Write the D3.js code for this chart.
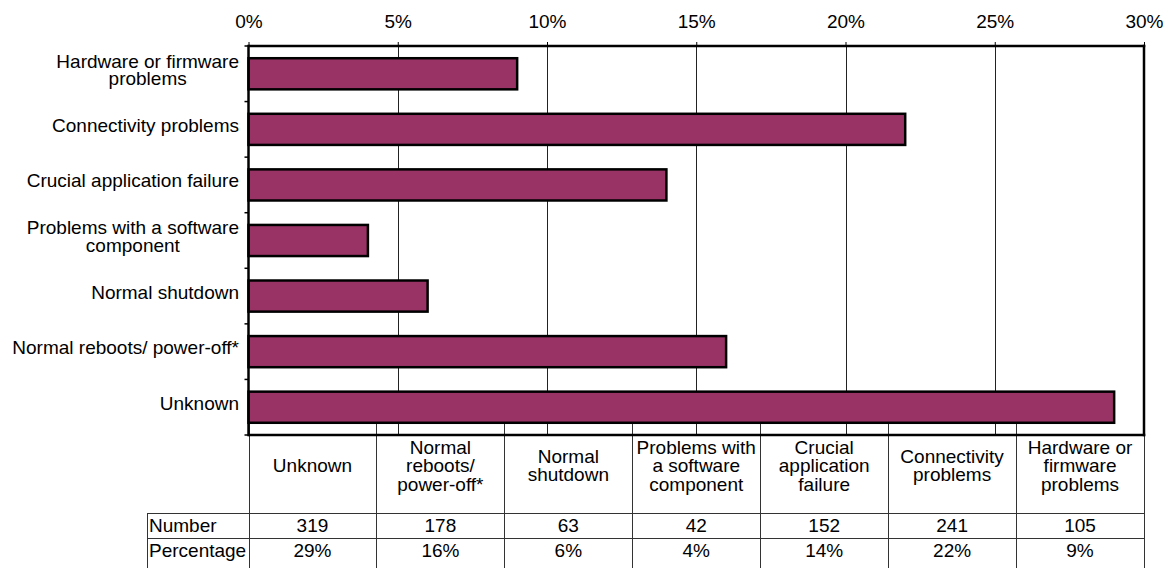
<!DOCTYPE html>
<html>
<head>
<meta charset="utf-8">
<script src="https://cdn.jsdelivr.net/npm/d3@7"></script>
<style>
  html, body { margin: 0; padding: 0; background: #fff; }
  svg { display: block; }
  text { font-family: "Liberation Sans", Arial, Helvetica, sans-serif; fill: #000; }
</style>
</head>
<body>
<svg id="chart" width="1172" height="568"></svg>
<script>
// Shutdown causes, in data-table order
const categories = [
  "Unknown",
  "Normal reboots/ power-off*",
  "Normal shutdown",
  "Problems with a software component",
  "Crucial application failure",
  "Connectivity problems",
  "Hardware or firmware problems"
];
const counts = [319, 178, 63, 42, 152, 241, 105];
const percentages = [29, 16, 6, 4, 14, 22, 9];

// How each name wraps beside the bars and in the table header
const axisLabelLines = [
  ["Unknown"],
  ["Normal reboots/ power-off*"],
  ["Normal shutdown"],
  ["Problems with a software", "component"],
  ["Crucial application failure"],
  ["Connectivity problems"],
  ["Hardware or firmware", "problems"]
];
const tableHeaderLines = [
  ["Unknown"],
  ["Normal", "reboots/", "power-off*"],
  ["Normal", "shutdown"],
  ["Problems with", "a software", "component"],
  ["Crucial", "application", "failure"],
  ["Connectivity", "problems"],
  ["Hardware or", "firmware", "problems"]
];
const xTicks = [0, 5, 10, 15, 20, 25, 30];
const rowLabels = ["Number", "Percentage"];

const FONT = 19;
const plot = { left: 248.5, right: 1144, top: 46, bottom: 435 };
const table = { labelLeft: 147, headerBottom: 513, rowMid: 538, bottom: 568 };

const svg = d3.select("#chart");

const x = d3.scaleLinear().domain([0, 30]).range([plot.left, plot.right]);
// Bars run top to bottom in reverse table order
const rows = d3.scaleBand().domain(categories.slice().reverse()).range([plot.top, plot.bottom]).padding(0);
const barFrac = 0.56;
const cols = d3.scaleBand().domain(categories).range([plot.left, plot.right]).padding(0);

// Vertical gridlines
svg.append("g").selectAll("line")
  .data(xTicks.filter(d => d > 0 && d < 30))
  .join("line")
  .attr("x1", d => Math.round(x(d)) + 0.5).attr("x2", d => Math.round(x(d)) + 0.5)
  .attr("y1", plot.top).attr("y2", plot.bottom)
  .attr("stroke", "#222").attr("stroke-width", 1);

// Top axis with outward ticks
const topAxis = svg.append("g")
  .attr("transform", `translate(0,${plot.top})`)
  .call(d3.axisTop(x).tickValues(xTicks).tickFormat(d => d + "%").tickSize(4).tickPadding(14));
topAxis.select(".domain").remove();
topAxis.selectAll(".tick line").attr("stroke", "#000").attr("stroke-width", 1);
topAxis.selectAll(".tick text")
  .attr("font-size", FONT).style("font-family", "'Liberation Sans', Arial, sans-serif");

// Table column lines, rising to the foot of the lowest bar
const lowest = categories[0];
const lowestBarBottom = rows(lowest) + rows.bandwidth() * (1 + barFrac) / 2;
const colEdges = categories.map(c => cols(c)).concat([plot.right]);
svg.append("g").selectAll("line")
  .data(colEdges)
  .join("line")
  .attr("x1", d => Math.round(d) + 0.5).attr("x2", d => Math.round(d) + 0.5)
  .attr("y1", lowestBarBottom).attr("y2", table.bottom)
  .attr("stroke", "#333").attr("stroke-width", 1);

// Bars
svg.append("g").selectAll("rect")
  .data(categories.map((c, i) => ({ c, v: percentages[i] })))
  .join("rect")
  .attr("x", x(0))
  .attr("y", d => rows(d.c) + rows.bandwidth() * (1 - barFrac) / 2)
  .attr("width", d => x(d.v) - x(0))
  .attr("height", rows.bandwidth() * barFrac)
  .attr("fill", "#993366")
  .attr("stroke", "#000")
  .attr("stroke-width", 2.5);

// Plot frame
const frame = svg.append("g").attr("stroke", "#000").attr("stroke-width", 2.5).attr("fill", "none");
frame.append("line").attr("x1", plot.left).attr("x2", plot.right + 1.25).attr("y1", plot.top).attr("y2", plot.top);
frame.append("line").attr("x1", plot.left).attr("x2", plot.right + 1.25).attr("y1", plot.bottom).attr("y2", plot.bottom);
frame.append("line").attr("x1", plot.left).attr("x2", plot.left).attr("y1", plot.top - 1.25).attr("y2", plot.bottom + 1.25);
frame.append("line").attr("x1", plot.right).attr("x2", plot.right).attr("y1", plot.top - 1.25).attr("y2", plot.bottom + 1.25);

// Left category ticks at row boundaries
const rowEdges = rows.domain().map(c => rows(c)).concat([plot.bottom]);
svg.append("g").selectAll("line")
  .data(rowEdges)
  .join("line")
  .attr("x1", plot.left - 4).attr("x2", plot.left)
  .attr("y1", d => d).attr("y2", d => d)
  .attr("stroke", "#000").attr("stroke-width", 1.5);

// Category labels: block right-aligned, lines centred within it
const labelRight = 239;
const lineGap = 17.5;
categories.forEach((c, i) => {
  const lines = axisLabelLines[i];
  const cy = rows(c) + rows.bandwidth() / 2;
  const text = svg.append("text").attr("font-size", FONT);
  const spans = lines.map((t, k) => text.append("tspan")
    .attr("y", cy + 2.5 - (lines.length - 1) * lineGap / 2 + k * lineGap)
    .text(t));
  const w = d3.max(spans, s => s.node().getComputedTextLength());
  text.attr("text-anchor", "middle");
  spans.forEach(s => s.attr("x", labelRight - w / 2));
});

// Data table: header names
const headGap = 18.5;
categories.forEach((c, i) => {
  const lines = tableHeaderLines[i];
  const cx = cols(c) + cols.bandwidth() / 2;
  const text = svg.append("text").attr("font-size", FONT).attr("text-anchor", "middle");
  lines.forEach((t, k) => {
    text.append("tspan")
      .attr("x", cx)
      .attr("y", 472 - (lines.length - 1) * headGap / 2 + k * headGap)
      .text(t);
  });
});

// Data table: row rules and label column edge
const rules = svg.append("g").attr("stroke", "#333").attr("stroke-width", 1);
[table.headerBottom, table.rowMid].forEach(yy => {
  rules.append("line").attr("x1", table.labelLeft).attr("x2", plot.right + 0.5)
    .attr("y1", yy + 0.5).attr("y2", yy + 0.5);
});
rules.append("line").attr("x1", table.labelLeft + 0.5).attr("x2", table.labelLeft + 0.5)
  .attr("y1", table.headerBottom).attr("y2", table.bottom);

// Data table: row labels and values
const rowBaselines = [531.5, 557];
const rowValues = [counts.map(String), percentages.map(d => d + "%")];
rowLabels.forEach((lab, r) => {
  svg.append("text")
    .attr("font-size", FONT)
    .attr("x", table.labelLeft + 2)
    .attr("y", rowBaselines[r])
    .text(lab);
  svg.append("g").selectAll("text")
    .data(rowValues[r])
    .join("text")
    .attr("font-size", FONT)
    .attr("text-anchor", "middle")
    .attr("x", (d, i) => cols(categories[i]) + cols.bandwidth() / 2)
    .attr("y", rowBaselines[r])
    .text(d => d);
});
</script>
</body>
</html>
